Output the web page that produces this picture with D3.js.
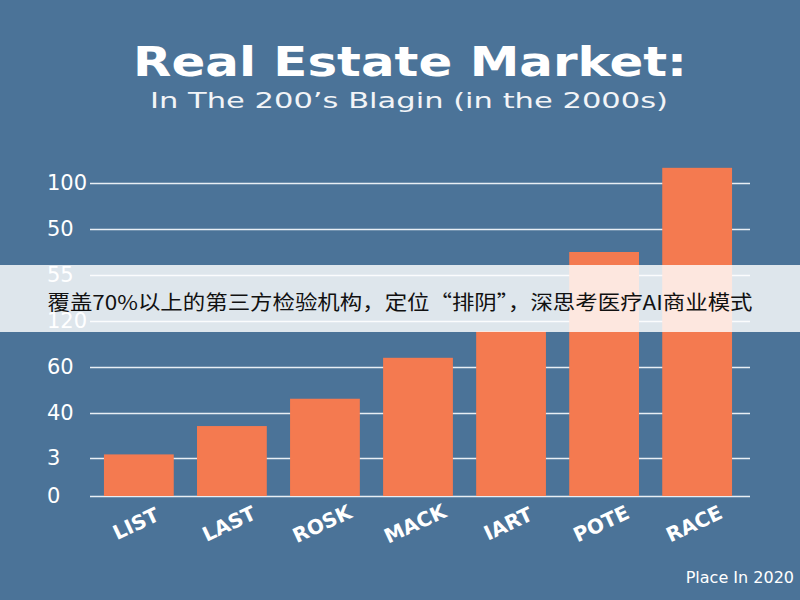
<!DOCTYPE html><html><head><meta charset="utf-8"><script src="https://d3js.org/d3.v7.min.js"></script>
<style>body{margin:0}svg{display:block}</style></head><body><script>
const categories=["LIST","LAST","ROSK","MACK","IART","POTE","RACE"];
const values=[1.08,1.71,2.31,3.2,3.78,5.5,7.33]; // in tick-index units
const tickLabels=["0","3","40","60","120","55","50","100"];
const W=800,H=600;
const svg=d3.select("body").append("svg").attr("width",W).attr("height",H);
svg.append("rect").attr("width",W).attr("height",H).attr("fill","#4b7398");
const y=d3.scaleLinear().domain([0,1,2,3,4,5,6,7]).range([496,458,413,367,321,275,229,183]);
const x=d3.scaleBand().domain(categories).range([90,746]).paddingInner(0.25).paddingOuter(0.15);
svg.append("text").attr("x",410).attr("y",76).attr("text-anchor","middle").attr("fill","#fff")
 .attr("font-family","DejaVu Sans").attr("font-weight","700").attr("font-size",40)
 .attr("textLength",554).attr("lengthAdjust","spacingAndGlyphs").text("Real Estate Market:");
svg.append("text").attr("x",409).attr("y",108).attr("text-anchor","middle").attr("fill","#f2f4f7")
 .attr("font-family","DejaVu Sans").attr("font-size",22)
 .attr("textLength",518).attr("lengthAdjust","spacingAndGlyphs").text("In The 200’s Blagin (in the 2000s)");
const ax=svg.append("g").attr("transform","translate(90,0)").call(d3.axisLeft(y).tickValues(d3.range(8)).tickSize(-660).tickFormat(i=>tickLabels[i]));
ax.select(".domain").remove();
ax.selectAll(".tick line").attr("stroke","#e8eef4").attr("stroke-width",1.5);
ax.selectAll(".tick text").attr("x",-43).attr("text-anchor","start").attr("fill","#fff").attr("font-family","DejaVu Sans").attr("font-size",21);
svg.selectAll(".bar").data(values).join("rect").attr("x",(d,i)=>x(categories[i])).attr("width",x.bandwidth())
 .attr("y",d=>y(d)).attr("height",d=>y(0)-y(d)).attr("fill","#f47a50");
svg.selectAll(".xl").data(categories).join("text")
 .attr("transform",d=>`translate(${x(d)+x.bandwidth()/2},${530}) rotate(-25)`).attr("text-anchor","middle")
 .attr("fill","#fff").attr("font-family","DejaVu Sans").attr("font-weight","700").attr("font-size",20).text(d=>d);
svg.append("text").attr("x",794).attr("y",583).attr("text-anchor","end").attr("fill","#fff")
 .attr("font-family","DejaVu Sans").attr("font-size",16).text("Place In 2020");
svg.append("rect").attr("x",0).attr("y",265).attr("width",W).attr("height",67).attr("fill","rgba(255,255,255,0.82)");
svg.append("text").attr("x",400).attr("y",310).attr("text-anchor","middle").attr("fill","#111")
 .attr("font-family","Noto Sans CJK SC").attr("font-size",20)
 .attr("textLength",705).attr("lengthAdjust","spacingAndGlyphs").text("覆盖70%以上的第三方检验机构，定位“排阴”，深思考医疗AI商业模式");
</script></body></html>
